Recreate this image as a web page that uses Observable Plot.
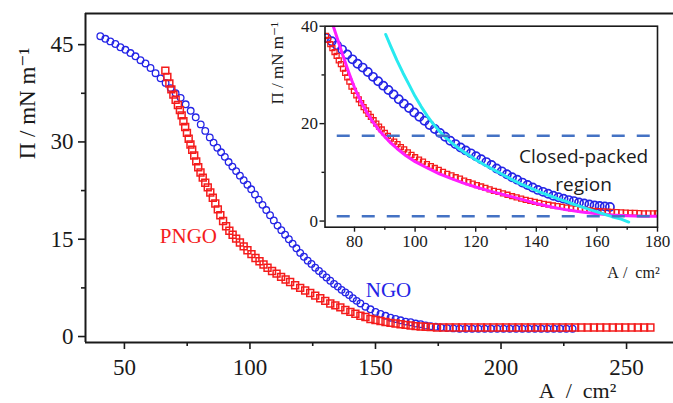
<!DOCTYPE html>
<html><head><meta charset="utf-8">
<script src="https://cdn.jsdelivr.net/npm/d3@7"></script>
<script src="https://cdn.jsdelivr.net/npm/@observablehq/plot@0.6"></script>
<style>
html,body{margin:0;padding:0;background:#fff;}
#wrap{position:relative;width:673px;height:403px;overflow:hidden;background:#fff;}
#wrap svg{position:absolute;overflow:visible;}
#wrap svg text, #wrap svg tspan{font-family:"Liberation Serif","Times New Roman","DejaVu Serif",serif !important;}
#wrap svg text.sans, #wrap svg text.sans tspan{font-family:"Open Sans","Liberation Sans",sans-serif !important;}
</style></head><body><div id="wrap"></div>
<script>
// ---- main chart data: [A (cm2), Pi (mN/m)] ----
const ngoMain = [[40.4,46.3],[42.4,45.9],[44.4,45.5],[46.4,45.1],[48.4,44.6],[50.4,44.2],[52.4,43.7],[54.4,43.2],[56.4,42.6],[58.4,42.1],[60.4,41.4],[62.4,40.6],[64.4,39.8],[66.4,39.1],[68.4,38.3],[70.4,37.5],[72.4,36.8],[74.4,35.8],[76.4,34.8],[78.4,33.8],[80.4,32.7],[82.2,31.7],
[84.0,30.7],[85.5,29.9],[87.0,29.1],[88.5,28.4],[90.0,27.7],[91.5,26.9],[93.0,26.2],[94.5,25.5],[96.0,24.8],[97.5,24.1],[99.0,23.4],[100.5,22.7],[102.0,21.9],[103.5,21.1],[105.0,20.3],[106.5,19.5],[108.0,18.7],[109.5,17.9],[111.0,17.1],[112.5,16.4],[114.0,15.7],[115.5,15.0],[117.0,14.3],[118.5,13.6],[120.0,12.9],[121.5,12.3],[123.0,11.7],[124.5,11.2],[126.0,10.6],[127.5,10.1],[129.0,9.6],[130.5,9.1],[132.0,8.6],[133.5,8.1],[135.0,7.7],[136.5,7.2],[138.0,6.8],[139.5,6.4],[141.0,5.9],[142.5,5.5],[144.0,5.1],
[146,4.6],[148,4.2],[150,3.8],[152,3.5],[154,3.2],[156,2.9],[158,2.7],[160,2.5],[162,2.3],[164,2.2],[166,2.0],[168,1.9],[170,1.7],[172,1.6],[174,1.5],[176,1.4],
[178.5,1.3],[181,1.25],[183.5,1.2],[186,1.2],[188.5,1.2],[191,1.2],[193.5,1.2],[196,1.2],[198.5,1.2],[201,1.2],[203.5,1.2],[206,1.2],[208.5,1.2],[211,1.2],[213.5,1.2],[216,1.2],[218.5,1.2],[221,1.2],[223.5,1.2],[226,1.2],[228.5,1.2]];

const pngoMain = [[66.3,41.0],[67.1,40.0],[67.9,39.0],[68.7,38.1],[69.5,37.3],[70.4,36.5],[71.3,35.7],[72.1,34.9],[72.8,34.1],[73.5,33.2],[74.2,32.3],[74.9,31.4],[75.6,30.5],[76.3,29.6],[77.0,28.8],[77.8,27.9],[78.6,27.0],[79.4,26.1],[80.3,25.3],[81.2,24.5],[82.2,23.7],[83.2,23.0],[84.2,22.2],[85.2,21.4],[86.2,20.5],[87.2,19.6],[88.2,18.7],[89.3,17.8],[90.5,17.0],[91.8,16.3],[93.1,15.7],[94.5,15.1],[96.0,14.5],[97.5,13.9],[99.0,13.3],[100.6,12.7],[102.2,12.1],[103.8,11.6],[105.4,11.1],[107.0,10.6],[108.8,10.1],[110.6,9.7],[112.4,9.2],[114.2,8.8],[116.0,8.4],[118,7.9],[120,7.5],[122,7.1],[124,6.7],[126,6.3],[128,5.9],[130,5.5],[132,5.1],[134,4.8],[136,4.5],[138,4.1],[140,3.8],[142,3.5],[144,3.2],[146,3.0],[148,2.7],[150,2.55],[152,2.4],[154,2.25],[156,2.1],[158,2.0],[160,1.9],[162,1.8],[164,1.7],[166,1.6],[168,1.55],[170,1.5],[172,1.45],[174.5,1.4],
[177,1.4],[179.5,1.4],[182,1.4],[184.5,1.4],[187,1.4],[189.5,1.4],[192,1.4],[194.5,1.4],[197,1.4],[199.5,1.4],[202,1.4],[204.5,1.4],[207,1.4],[209.5,1.4],[212,1.4],[214.5,1.4],[217,1.4],[219.5,1.4],[222,1.4],[224.5,1.4],[227,1.4],[229.5,1.4],[232,1.4],[234.5,1.4],[237,1.4],[239.5,1.4],[242,1.4],[244.5,1.4],[247,1.4],[249.5,1.4],[252,1.4],[254.5,1.4],[257,1.4],[259.5,1.4]];

// ---- inset data ----
const ngoInset = [[70.8,37.6],[72.5,36.9],[74.2,36.1],[75.9,35.2],[77.6,34.2],[79.3,33.2],[81.0,32.3],[82.7,31.5],[84.4,30.6],[86.1,29.6],[87.8,28.7],[89.5,27.8],[91.2,26.9],[92.9,26.0],[94.6,25.0],[96.3,24.1],[98.0,23.2],[99.7,22.3],[101.4,21.4],[103.1,20.6],[104.8,19.7],[106.5,18.9],[108.2,18.1],[109.9,17.3],[111.6,16.5],[113.3,15.8],[115.0,15.1],[116.7,14.5],[118.4,13.9],[120.1,13.3],[121.8,12.7],[123.5,12.1],[125.2,11.5],[126.9,10.8],[128.6,10.2],[130.3,9.6],[132.0,9.0],[133.7,8.5],[135.4,7.9],[137.1,7.4],[138.8,6.9],[140.5,6.4],[142.2,6.0],[143.9,5.6],[145.6,5.2],[147.3,4.9],[149.0,4.6],[150.7,4.3],[152.4,4.1],[154.1,3.8],[155.8,3.6],[157.5,3.4],[159.2,3.2],[160.9,3.1],[162.6,3.0],[164.3,2.9]];

const pngoInset = [[70.6,38.0],[71.3,37.2],[72.0,36.3],[72.7,35.5],[73.4,34.7],[74.1,33.9],[74.8,33.0],[75.5,32.2],[76.2,31.3],[76.9,30.4],[77.6,29.5],[78.3,28.6],[79.0,27.6],[79.8,26.7],[80.6,25.8],[81.4,25.0],[82.2,24.2],[83.0,23.4],[83.8,22.7],[84.6,22.0],[85.4,21.4],[86.3,20.7],[87.2,20.0],[88.1,19.4],[89.0,18.8],[90.0,18.1],[91.0,17.5],[92.0,16.9],[93.1,16.3],[94.2,15.8],[95.3,15.2],[96.4,14.7],[97.6,14.1],[98.8,13.6],[100.0,13.1],[101.3,12.6],[102.6,12.2],[103.9,11.7],[105.2,11.3],[106.5,10.9],[107.8,10.5],[109.2,10.1],[110.6,9.7],[112.0,9.4],[113.4,9.0],[114.8,8.7],[116.2,8.3],[117.6,8.0],[119.0,7.7],[120.4,7.4],[121.8,7.1],[123.2,6.8],[124.6,6.5],[126.0,6.2],[127.5,6.0],[129.0,5.7],[130.5,5.4],[132.0,5.1],[133.5,4.85],[135.0,4.6],[136.5,4.35],[138.0,4.15],[139.5,3.95],[141.0,3.75],[142.5,3.55],[144.0,3.35],[145.5,3.2],[147.0,3.05],[148.5,2.9],[150.0,2.75],[151.5,2.6],[153.0,2.5],[154.5,2.4],[156.0,2.3],[157.5,2.2],[159.0,2.1],[160.5,2.05],[162.0,2.0],[163.5,1.95],[165.0,1.9],[166.5,1.85],[168.0,1.8],[169.5,1.75],[171.0,1.7],[172.5,1.7],[174.0,1.65],[175.5,1.6],[177.0,1.6],[178.5,1.6],[179.8,1.6]];

const fitMagenta = [[73,40.0],[74,38.1],[75,36.2],[76,34.3],[77,32.5],[78,30.7],[79,29.0],[80,27.4],[81,26.0],[82,24.7],[83,23.5],[84,22.4],[86,20.4],[88,18.7],[90,17.3],[92,16.0],[94,14.9],[97,13.4],[100,12.2],[104,10.9],[108,9.7],[112,8.7],[116,7.8],[120,7.0],[125,6.1],[130,5.3],[135,4.5],[140,3.6],[145,2.9],[150,2.3],[155,1.85],[160,1.5],[165,1.25],[170,1.1],[175,1.0],[180,1.0]];

const fitCyan = [[90.3,38.3],[92,35.8],[94,33.0],[96,30.4],[98,28.0],[100,25.6],[102,23.5],[104,21.6],[106,19.9],[108,18.5],[110,17.2],[112,16.1],[114,15.1],[116,14.2],[118,13.4],[120,12.6],[123,11.5],[126,10.5],[129,9.5],[132,8.5],[135,7.6],[138,6.8],[141,6.0],[144,5.3],[147,4.6],[150,4.0],[153,3.3],[156,2.7],[159,2.1],[162,1.5],[165,0.9],[168,0.4],[170.5,-0.2]];

const packedBounds = [17.5, 1.0];

// ---- ticks ----
const mainXTicks = [50,100,150,200,250], mainXMinor = [75,125,175,225];
const mainYTicks = [0,15,30,45], mainYMinor = [7.5,22.5,37.5];
const insetXTicks = [80,100,120,140,160,180], insetXMinor = [90,110,130,150,170];
const insetYTicks = [0,20,40], insetYMinor = [10,30];

const ink = "#1a1a1a";
const BLUE = "#2424e6", RED = "#f41c1c";
const xMain = [34.5, 268.7], yMain = [-0.92, 49.8];
const xIn = [70.26, 180], yIn = [-1.26, 40];
const blank = () => "";

const main = Plot.plot({
  width: 673, height: 403,
  marginLeft: 85, marginRight: 0, marginTop: 13, marginBottom: 61,
  x: {domain: xMain}, y: {domain: yMain},
  style: {background: "transparent", overflow: "visible"},
  marks: [
    Plot.axisX(mainXTicks, {anchor: "bottom", tickSize: 7, tickPadding: 9, fontSize: 23, color: ink, strokeWidth: 1.6, label: null}),
    Plot.axisX(mainXMinor, {anchor: "bottom", tickSize: 4, tickFormat: blank, color: ink, strokeWidth: 1.6, label: null}),
    Plot.axisY(mainYTicks, {anchor: "left", tickSize: 7, tickPadding: 5, fontSize: 23, color: ink, strokeWidth: 1.6, label: null}),
    Plot.axisY(mainYMinor, {anchor: "left", tickSize: 4, tickFormat: blank, color: ink, strokeWidth: 1.6, label: null}),
    Plot.ruleX([xMain[0]], {stroke: ink, strokeWidth: 2}),
    Plot.ruleY([yMain[0], yMain[1]], {stroke: ink, strokeWidth: 2}),
    Plot.dot(ngoMain, {x: d => d[0], y: d => d[1], r: 3.3, stroke: BLUE, strokeWidth: 1.3, fill: "none"}),
    Plot.dot(pngoMain, {x: d => d[0], y: d => d[1], r: 3.9, symbol: "square", stroke: RED, strokeWidth: 1.5, fill: "none"}),
    Plot.text(["PNGO"], {x: 75.5, y: 15.4, text: d => d, fill: RED, fontSize: 21}),
    Plot.text(["NGO"], {x: 155.2, y: 7.2, text: d => d, fill: BLUE, fontSize: 21}),
    Plot.text(["Π / mN m⁻¹"], {frameAnchor: "top-left", dx: -58, dy: 90, rotate: -90, textAnchor: "middle", lineAnchor: "middle", text: d => d, fontSize: 23, fill: ink}),
    Plot.text(["A\u00a0\u00a0/\u00a0\u00a0cm²"], {frameAnchor: "bottom-left", dx: 492, dy: 48, textAnchor: "middle", lineAnchor: "middle", text: d => d, fontSize: 22, fill: ink})
  ]
});
main.style.left = "0px"; main.style.top = "0px";

const inset = Plot.plot({
  width: 411, height: 277,
  marginLeft: 62.5, marginRight: 16, marginTop: 20.7, marginBottom: 55.3,
  x: {domain: xIn}, y: {domain: yIn},
  style: {background: "transparent", overflow: "visible"},
  marks: [
    Plot.axisX(insetXTicks, {anchor: "bottom", tickSize: 5, tickPadding: 3, fontSize: 17, color: ink, strokeWidth: 1.4, label: null}),
    Plot.axisX(insetXMinor, {anchor: "bottom", tickSize: 3, tickFormat: blank, color: ink, strokeWidth: 1.4, label: null}),
    Plot.axisY(insetYTicks, {anchor: "left", tickSize: 5, tickPadding: 2, fontSize: 17, color: ink, strokeWidth: 1.4, label: null}),
    Plot.axisY(insetYMinor, {anchor: "left", tickSize: 3, tickFormat: blank, color: ink, strokeWidth: 1.4, label: null}),
    Plot.dot(ngoInset, {x: d => d[0], y: d => d[1], r: 4.1, stroke: BLUE, strokeWidth: 1.7, fill: "none", clip: true}),
    Plot.dot(pngoInset, {x: d => d[0], y: d => d[1], r: 2.8, symbol: "square", stroke: RED, strokeWidth: 1.3, fill: "none", clip: true}),
    Plot.line(fitMagenta, {x: d => d[0], y: d => d[1], stroke: "#ff1eff", strokeWidth: 3, clip: true}),
    Plot.line(fitCyan, {x: d => d[0], y: d => d[1], stroke: "#28eaf0", strokeWidth: 3, clip: true}),
    Plot.ruleY(packedBounds, {x1: 74.3, x2: 181, stroke: "#4472c4", strokeWidth: 2.6, strokeDasharray: "13,12"}),
    Plot.frame({stroke: ink, strokeWidth: 1.6}),
    Plot.text(["Closed-packed\nregion"], {x: 155.6, y: 10.9, text: d => d, fontSize: 19, lineHeight: 1.47, fill: ink, textAnchor: "middle", lineAnchor: "middle"}),
    Plot.text(["Π / mN m⁻¹"], {frameAnchor: "top-left", dx: -47.5, dy: 37, rotate: -90, textAnchor: "middle", lineAnchor: "middle", text: d => d, fontSize: 17, fill: ink}),
    Plot.text(["A\u00a0/\u00a0\u00a0cm²"], {frameAnchor: "bottom-right", dx: -24, dy: 46, textAnchor: "middle", lineAnchor: "middle", text: d => d, fontSize: 16, fill: ink})
  ]
});
inset.style.left = "262px"; inset.style.top = "5px";

const wrap = document.getElementById("wrap");
wrap.appendChild(main);
wrap.appendChild(inset);

// the inset annotation is in a sans face, everything else is serif
d3.selectAll("#wrap svg text").each(function() {
  if ((this.textContent || "").startsWith("Closed")) this.classList.add("sans");
});
</script>
</body></html>
